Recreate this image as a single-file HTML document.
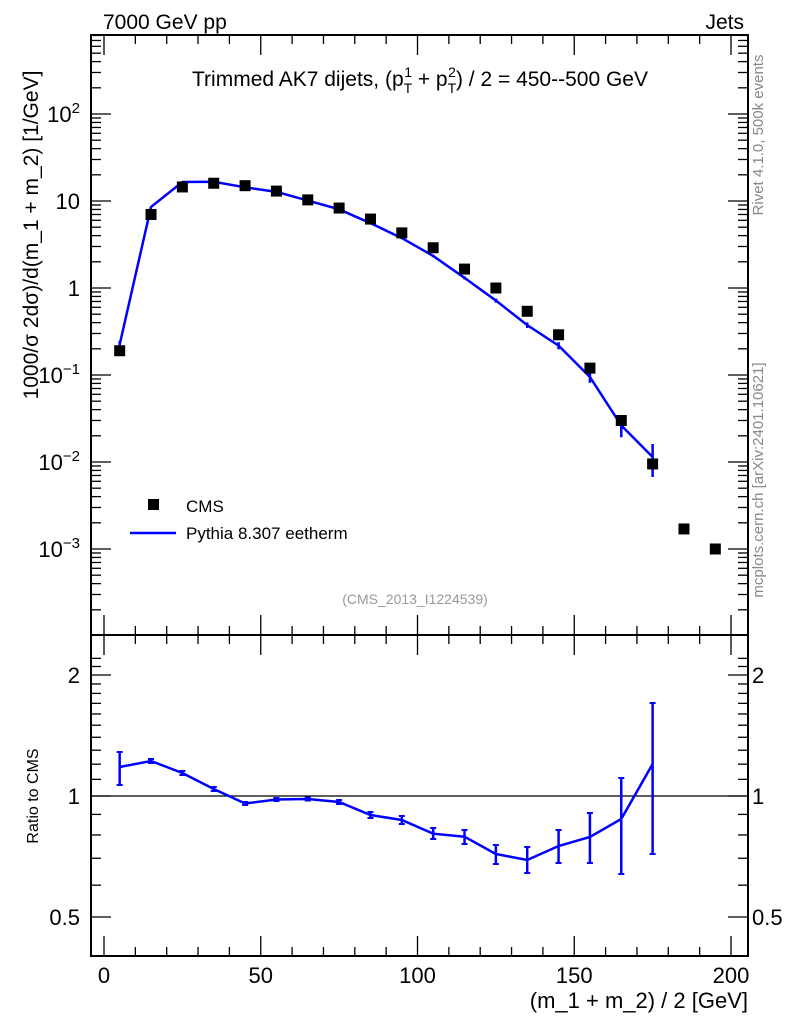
<!DOCTYPE html>
<html><head><meta charset="utf-8"><style>
body{margin:0;background:#fff;width:786px;height:1024px;overflow:hidden}
svg{font-family:"Liberation Sans",sans-serif}
</style></head><body>
<svg id="s" width="786" height="1024" xmlns="http://www.w3.org/2000/svg"></svg>
<script>
const s=document.getElementById('s');let h='';
const L=91,R=748,T=35,M=635,B=956;
const X=v=>104+v*3.135;
const Y=v=>288-87*Math.log10(v);
const RY=r=>796-121*Math.log2(r);
const RV=y=>Math.pow(2,(796-y)/121);
h+=`<rect x="${L}" y="${T}" width="${R-L}" height="${M-T}" fill="none" stroke="#000" stroke-width="2"/>`;
h+=`<rect x="${L}" y="${M}" width="${R-L}" height="${B-M}" fill="none" stroke="#000" stroke-width="2"/>`;
for(let v=0;v<=200;v+=10){const x=X(v),big=v%50==0,l=big?20:9;
 for(const [y0,d] of [[T,1],[M,-1],[M,1],[B,-1]]) h+=`<line x1="${x}" y1="${y0}" x2="${x}" y2="${y0+d*l}" stroke="#000" stroke-width="1.3"/>`;}
for(const v of [0,50,100,150,200]) h+=`<text x="${X(v)}" y="983" font-size="22" text-anchor="middle">${v}</text>`;
for(let e=-4;e<=3;e++)for(let k=1;k<10;k++){const v=k*Math.pow(10,e),y=Y(v);if(y<T||y>M)continue;const l=k==1?20:10;
 h+=`<line x1="${L}" y1="${y}" x2="${L+l}" y2="${y}" stroke="#000" stroke-width="1.3"/><line x1="${R}" y1="${y}" x2="${R-l}" y2="${y}" stroke="#000" stroke-width="1.3"/>`;}
const lab=[[Y(100),'10<tspan dy="-9" font-size="15">2</tspan>'],[Y(10),'10'],[Y(1),'1'],[Y(.1),'10<tspan dy="-9" font-size="15">−1</tspan>'],[Y(.01),'10<tspan dy="-9" font-size="15">−2</tspan>'],[Y(.001),'10<tspan dy="-9" font-size="15">−3</tspan>']];
for(const [y,t] of lab) h+=`<text x="80" y="${y+8}" font-size="22" text-anchor="end">${t}</text>`;
for(const r of [0.5,0.6,0.7,0.8,0.9,1,1.1,1.2,1.3,1.4,1.5,1.6,1.7,1.8,1.9,2,2.1,2.2]){const y=RY(r);if(y<M||y>B)continue;const l=(r==0.5||r==1||r==2)?20:10;
 h+=`<line x1="${L}" y1="${y}" x2="${L+l}" y2="${y}" stroke="#000" stroke-width="1.3"/><line x1="${R}" y1="${y}" x2="${R-l}" y2="${y}" stroke="#000" stroke-width="1.3"/>`;}
for(const [r,t] of [[2,'2'],[1,'1'],[0.5,'0.5']]){h+=`<text x="80" y="${RY(r)+8}" font-size="22" text-anchor="end">${t}</text><text x="752" y="${RY(r)+8}" font-size="22">${t}</text>`;}
h+=`<line x1="${L}" y1="${RY(1)}" x2="${R}" y2="${RY(1)}" stroke="#000" stroke-width="1.3"/>`;
const cms=[0.19,7,14.5,16,15,13,10.3,8.3,6.2,4.3,2.9,1.65,1.0,0.54,0.29,0.12,0.03,0.0095,0.0017,0.001];
// ratio in pixel coords: [y, ylo(top), yhi(bottom)]
const rp=[[767,752,785],[761,759,763],[773,771,775],[789,787,791],[803.5,802,805],[799.5,798,801],[799,797.5,800.5],[802,800,804],[815,812,818],[820,816,824],[833.7,828,839],[836.7,830,844],[854,845,864],[860,847,873],[846,830,863],[837,813,863],[819,778,874],[764,703,854]];
let p='',pr='';
rp.forEach((q,i)=>{const x=X(5+10*i);const r=RV(q[0]);const m=cms[i]*r;p+=`${x},${Y(m)} `;pr+=`${x},${q[0]} `;
 h+=`<line x1="${x}" y1="${q[1]}" x2="${x}" y2="${q[2]}" stroke="#00f" stroke-width="2.5"/><line x1="${x-3}" y1="${q[1]}" x2="${x+3}" y2="${q[1]}" stroke="#00f" stroke-width="2"/><line x1="${x-3}" y1="${q[2]}" x2="${x+3}" y2="${q[2]}" stroke="#00f" stroke-width="2"/>`;
 const e=(RV(q[1])-RV(q[2]))/2*cms[i];
 h+=`<line x1="${x}" y1="${Y(Math.max(m-e,1e-5))}" x2="${x}" y2="${Y(m+e)}" stroke="#00f" stroke-width="2.5"/>`;});
h+=`<polyline points="${p}" fill="none" stroke="#00f" stroke-width="2.5"/><polyline points="${pr}" fill="none" stroke="#00f" stroke-width="2.5"/>`;
cms.forEach((v,i)=>{h+=`<rect x="${X(5+10*i)-5.5}" y="${Y(v)-5.5}" width="11" height="11" fill="#000"/>`;});
h+=`<rect x="148" y="499" width="11" height="11" fill="#000"/><text x="186" y="512" font-size="17">CMS</text>`;
h+=`<line x1="130" y1="533" x2="176" y2="533" stroke="#00f" stroke-width="2.5"/><text x="186" y="539" font-size="17">Pythia 8.307 eetherm</text>`;
h+=`<text x="103" y="29" font-size="21">7000 GeV pp</text><text x="744" y="29" font-size="21" text-anchor="end">Jets</text>`;
h+=`<text x="420" y="86" font-size="21" text-anchor="middle">Trimmed AK7 dijets, (p<tspan dy="7" font-size="14">T</tspan><tspan dy="-16" dx="-8" font-size="14">1</tspan><tspan dy="9"> + p</tspan><tspan dy="7" font-size="14">T</tspan><tspan dy="-16" dx="-8" font-size="14">2</tspan><tspan dy="9">) / 2 = 450--500 GeV</tspan></text>`;
h+=`<text x="415" y="604" font-size="14" fill="#999" text-anchor="middle">(CMS_2013_I1224539)</text>`;
h+=`<text x="748" y="1008" font-size="22" text-anchor="end">(m_1 + m_2) / 2 [GeV]</text>`;
h+=`<text transform="translate(38,235) rotate(-90)" font-size="21" text-anchor="middle">1000/σ   2dσ)/d(m_1 + m_2) [1/GeV]</text>`;
h+=`<text transform="translate(38,796) rotate(-90)" font-size="16" text-anchor="middle">Ratio to CMS</text>`;
h+=`<text transform="translate(763,135) rotate(-90)" font-size="15" fill="#888" text-anchor="middle">Rivet 4.1.0,  500k events</text>`;
h+=`<text transform="translate(763,480) rotate(-90)" font-size="15" fill="#888" text-anchor="middle">mcplots.cern.ch [arXiv:2401.10621]</text>`;
s.innerHTML=h;
</script>
</body></html>
